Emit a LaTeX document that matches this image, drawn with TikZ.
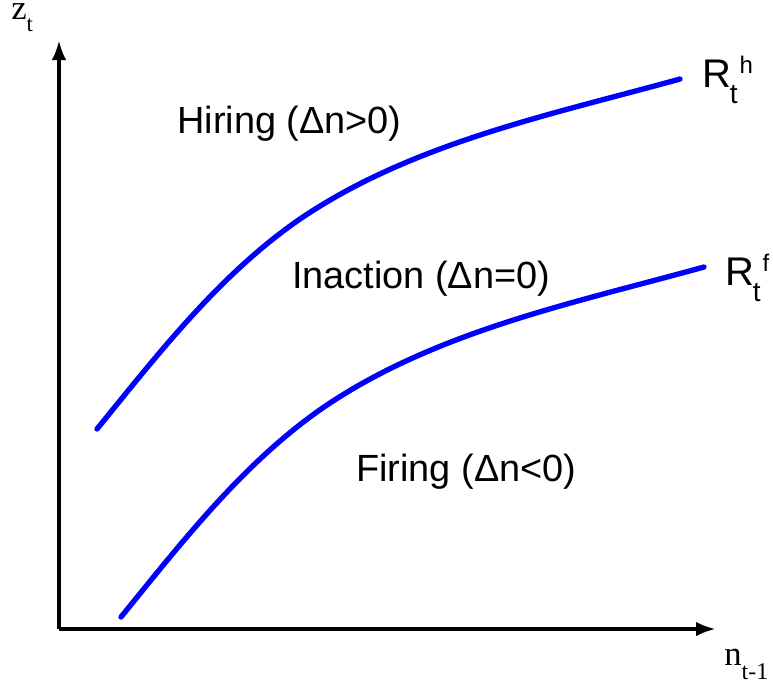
\documentclass[tikz,border=0pt]{standalone}
\usepackage{fontspec}
\setmainfont{Liberation Sans}
\newfontfamily\serifax{Liberation Serif}
\usetikzlibrary{arrows.meta}
\newcommand{\lowsub}[3]{\raisebox{-#1}{\fontsize{#2}{#2}\selectfont #3}}
\newcommand{\highsup}[3]{\raisebox{#1}{\fontsize{#2}{#2}\selectfont #3}}
\begin{document}
\begin{tikzpicture}[x=0.75pt,y=-0.75pt,
  axis/.style={line width=3.2pt,-{Latex[length=15pt,width=11pt]}},
  curve/.style={line width=4pt,color=blue,line cap=round},
  region/.style={font=\fontsize{28.4}{34}\selectfont,anchor=base west,inner sep=0pt},
  axlabel/.style={font=\serifax,anchor=base west,inner sep=0pt},
  rlabel/.style={font=\fontsize{30}{36}\selectfont,anchor=base west,inner sep=0pt}]
\useasboundingbox (0,0) rectangle (773,687);
\coordinate (O) at (59,629);
\coordinate (Ytip) at (59,40);
\coordinate (Xtip) at (716,629);
\draw[axis] (O) -- (Ytip);
\draw[axis] (O) -- (Xtip);
\node[axlabel] (zt) at (11,19) {\fontsize{26}{26}\selectfont z\lowsub{9.5pt}{17}{t}};
\node[axlabel] (nt) at (724,665) {\fontsize{26}{26}\selectfont n\lowsub{10.5pt}{18}{t-1}};
% upper boundary R_t^h
\draw[curve] (97,429) .. controls (158,354) and (220,274) .. (300,219)
                      .. controls (412,143) and (550,115) .. (680,79);
% lower boundary R_t^f (same shape, shifted)
\begin{scope}[shift={(24,188)}]
\draw[curve] (97,429) .. controls (158,354) and (220,274) .. (300,219)
                      .. controls (412,143) and (550,115) .. (680,79);
\end{scope}
\node[region] (hiring) at (177,133) {Hiring (Δn>0)};
\node[region] (inaction) at (292,288) {Inaction (Δn=0)};
\node[region] (firing) at (356,481) {Firing (Δn<0)};
\node[rlabel] (rh) at (702,87) {R\kern-1pt\lowsub{12pt}{21}{t}\kern1.5pt\highsup{10pt}{18}{h}};
\node[rlabel] (rf) at (725,285) {R\kern-1pt\lowsub{12pt}{21}{t}\kern1.5pt\highsup{10pt}{18}{f}};
\end{tikzpicture}
\end{document}
